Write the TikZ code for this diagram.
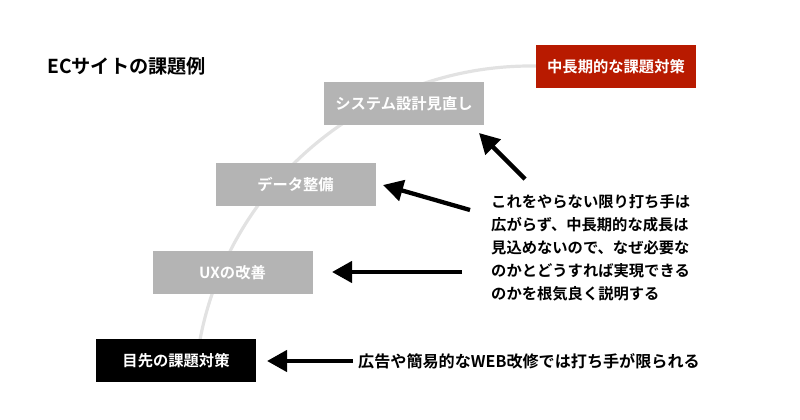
\documentclass[tikz,border=0pt]{standalone}
\usepackage{fontspec}
\setmainfont{Noto Sans CJK JP}[BoldFont={Noto Sans CJK JP Bold}]
\usetikzlibrary{arrows.meta}
\definecolor{boxgray}{HTML}{B4B4B4}
\definecolor{boxred}{HTML}{B81A00}
\definecolor{arcgray}{HTML}{E2E2E2}
\tikzset{
  stepbox/.style={minimum width=160pt, minimum height=43pt, inner sep=0pt,
    text=white, font=\bfseries\fontsize{15.3}{18}\selectfont},
  graybox/.style={stepbox, fill=boxgray},
  bigarrow/.style={line width=4.3pt, -{Triangle[length=20pt,width=21pt]}},
  plaintext/.style={inner sep=0pt, font=\bfseries\fontsize{15.3}{23}\selectfont, align=left}
}
\begin{document}
\begin{tikzpicture}[x=1pt,y=1pt]
\useasboundingbox (0,0) rectangle (800,420);
% arc
\coordinate (arccenter) at (531,17);
\draw[arcgray, line width=3.2pt] ([shift={(171:337)}]arccenter) arc[start angle=171, end angle=88, radius=337];
% boxes
\node[stepbox, fill=boxred] (long) at (616,353.5) {中長期的な課題対策};
\node[graybox] (sys) at (404,316.5) {システム設計見直し};
\node[graybox] (data) at (295.5,235.5) {データ整備};
\node[graybox] (ux) at (232.5,147) {UXの改善};
\node[stepbox, fill=black] (short) at (176,59) {目先の課題対策};
% title
\node[inner sep=0pt, anchor=west, font=\bfseries\fontsize{19.2}{21}\selectfont] (title) at (47,354) {ECサイトの課題例};
% texts
\node[plaintext, anchor=west] (expl) at (491,172.5) {これをやらない限り打ち手は\\広がらず、中長期的な成長は\\見込めないので、なぜ必要な\\のかとどうすれば実現できる\\のかを根気良く説明する};
\node[plaintext, anchor=west, font=\bfseries\fontsize{16.1}{20}\selectfont] (limit) at (358,59) {広告や簡易的なWEB改修では打ち手が限られる};
% arrow ends
\coordinate (sysT) at (525,241); \coordinate (sysH) at (479,287);
\coordinate (dataT) at (470,210); \coordinate (dataH) at (383,235);
\coordinate (uxT) at (462,148); \coordinate (uxH) at (332,148);
\coordinate (shT) at (353,59); \coordinate (shH) at (267,59);
\draw[bigarrow] (sysT) -- (sysH);
\draw[bigarrow] (dataT) -- (dataH);
\draw[bigarrow] (uxT) -- (uxH);
\draw[bigarrow] (shT) -- (shH);
\end{tikzpicture}
\end{document}
